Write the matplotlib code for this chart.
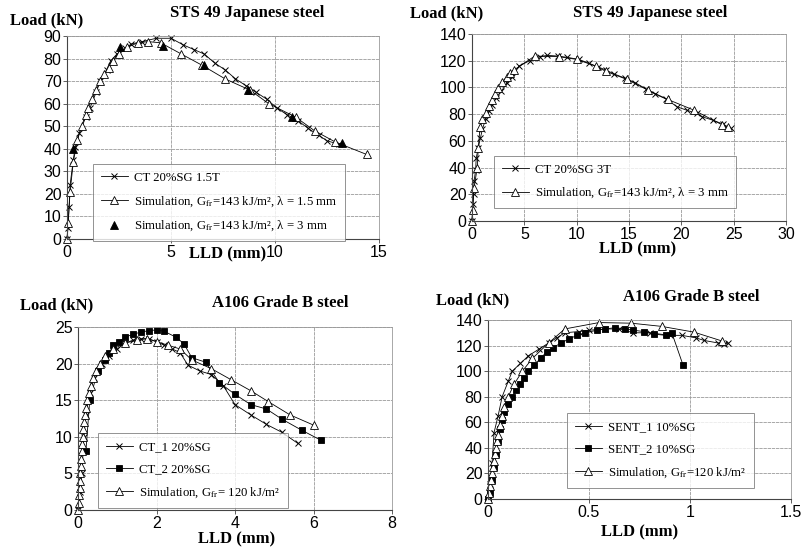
import numpy as np
import matplotlib
matplotlib.use("Agg")
import matplotlib.pyplot as plt

plt.rcParams['font.family'] = ['Liberation Serif', 'DejaVu Serif']
plt.rcParams['mathtext.fontset'] = 'stix'

# ---- panel 1 : STS 49, CT 1.5T ----
ct15_x = [0, 0.05, 0.1, 0.15, 0.3, 0.4, 0.6, 0.9, 1.1, 1.4, 1.6, 1.9, 2.1, 2.4, 2.8, 3.1, 3.6, 4.3, 5.0,
          5.6, 6.1, 6.6, 7.1, 7.6, 8.1, 8.6, 9.1, 9.6, 10.1, 10.6, 11.1, 11.6, 12.1, 12.5, 13.1]
ct15_y = [0, 5, 14, 24, 35, 41, 47, 54, 58, 65, 70, 75, 79, 82, 84.5, 86.5, 87.5, 89, 89,
          86, 84, 82, 78, 75, 71, 68, 65, 62, 58, 55, 52.5, 49, 46, 43.5, 42]
sim15_x = [0, 0.05, 0.15, 0.3, 0.5, 0.7, 0.9, 1.0, 1.2, 1.4, 1.6, 1.8, 2.0, 2.2, 2.5, 2.9, 3.4, 3.9,
           4.5, 5.5, 6.5, 7.6, 8.8, 9.7, 11.0, 11.9, 12.9, 14.4]
sim15_y = [0, 7, 21, 34, 44, 50, 55, 58, 62, 66, 70, 73, 76, 79, 82, 85, 87, 87.5,
           87, 82, 77, 71, 66, 60, 54, 48, 43, 37.5]
sim3a_x = [0.3, 2.55, 4.6, 6.6, 8.7, 10.8, 13.2]
sim3a_y = [40, 85, 85.5, 77, 66, 54, 42.5]

# ---- panel 2 : STS 49, CT 3T ----
ct3_x = [0, 0.1, 0.15, 0.2, 0.35, 0.4, 0.6, 0.8, 1.0, 1.3, 1.6, 1.9, 2.3, 2.8, 3.3, 3.8, 4.5, 5.5, 6.5,
         7.2, 8.2, 9.1, 10.2, 11.2, 12.0, 12.8, 13.6, 14.6, 15.6, 16.6, 17.5, 18.5, 19.6, 20.5, 21.5,
         22.0, 23.0, 24.0, 24.7]
ct3_y = [0, 13, 20, 30, 38, 47, 55, 62, 69, 76, 82, 87, 92, 97, 103, 108, 116, 120, 123,
         124, 123.5, 122.5, 121, 118, 115.5, 113, 110, 107, 103.5, 99, 95, 91.5, 85.5, 83, 80.5,
         78, 75.5, 72.5, 69.5]
sim3b_x = [0, 0.05, 0.2, 0.5, 0.6, 0.77, 1.0, 1.35, 1.6, 1.9, 2.2, 2.5, 2.9, 3.3, 3.6, 4.0, 6.0,
           8.3, 10.0, 11.8, 12.8, 14.8, 16.8, 18.7, 21.2, 23.9, 24.5]
sim3b_y = [0, 8, 25, 40, 55, 70, 76, 81, 86, 90.5, 95, 99.5, 104, 108, 111, 113, 123.5,
           123, 121, 116, 112, 106, 98, 91, 83, 72, 70]

# ---- panel 3 : A106, CT ----
ct1_x = [0, 0.05, 0.1, 0.15, 0.2, 0.3, 0.4, 0.6, 0.8, 1.0, 1.2, 1.4, 1.6, 1.8, 2.0, 2.2, 2.4, 2.6,
         2.8, 3.1, 3.4, 3.7, 4.0, 4.4, 4.8, 5.2, 5.6]
ct1_y = [0, 2.5, 5, 10, 13, 16, 18, 20, 21, 22, 22.8, 23.2, 23.4, 23.4, 23, 22.5, 22, 21.5,
         19.8, 19, 18.5, 17, 14.4, 13, 11.7, 10.6, 9.1]
ct2_x = [0.2, 0.3, 0.5, 0.7, 0.8, 0.9, 1.05, 1.2, 1.4, 1.6, 1.8, 2.0, 2.2, 2.5, 2.7, 2.9, 3.25,
         3.6, 4.0, 4.4, 4.8, 5.2, 5.7, 6.2]
ct2_y = [8, 15, 19, 20.5, 21.5, 22.5, 23, 23.6, 24, 24.3, 24.5, 24.6, 24.4, 23.6, 22.7, 20.8, 20.2,
         17.4, 15.8, 14.4, 13.8, 12.4, 10.9, 9.5]
sim120_x = [0, 0.02, 0.03, 0.04, 0.05, 0.06, 0.07, 0.08, 0.1, 0.11, 0.12, 0.14, 0.16, 0.18, 0.2,
            0.23, 0.27, 0.32, 0.38, 0.45, 0.55, 0.7, 0.9, 1.2, 1.5, 1.75, 2.0, 2.3, 2.6, 2.9,
            3.4, 3.9, 4.4, 4.85, 5.4, 6.0]
sim120_y = [0, 1, 2, 3, 4, 5, 6, 7, 8, 9, 10, 11, 12, 13, 14,
            15, 16, 17, 18, 19, 20, 21, 22, 22.8, 23.2, 23.4, 23, 22.5, 22, 20.5,
            19.3, 17.8, 16.3, 14.8, 13, 11.6]

# ---- panel 4 : A106, SENT ----
sent1_x = [0, 0.01, 0.02, 0.03, 0.05, 0.07, 0.1, 0.12, 0.16, 0.2, 0.25, 0.3, 0.34, 0.38, 0.45,
           0.5, 0.58, 0.65, 0.72, 0.8, 0.9, 0.96, 1.03, 1.07, 1.14, 1.17, 1.19]
sent1_y = [0, 12, 28, 52, 65, 80, 92, 100, 106, 112, 117, 122, 126, 130, 131,
           132, 133, 133, 130, 130, 128, 128, 126, 124, 122, 121, 122]
sent2_x = [0, 0.01, 0.02, 0.03, 0.04, 0.05, 0.06, 0.07, 0.08, 0.1, 0.12, 0.14, 0.16, 0.18, 0.2,
           0.23, 0.26, 0.29, 0.32, 0.36, 0.4, 0.44, 0.48, 0.54, 0.58, 0.63, 0.68, 0.72, 0.77,
           0.82, 0.88, 0.91, 0.965]
sent2_y = [0, 5, 15, 25, 35, 45, 55, 62, 68, 74, 80, 85, 90, 95, 100,
           105, 110, 115, 118, 122, 125, 128, 130, 132, 133, 134, 133, 132, 131,
           129, 128, 130, 105]
simsent_x = [0, 0.005, 0.01, 0.015, 0.02, 0.025, 0.03, 0.035, 0.04, 0.045, 0.05, 0.06, 0.07,
             0.08, 0.1, 0.13, 0.17, 0.22, 0.3, 0.38, 0.55, 0.71, 0.86, 1.02, 1.16]
simsent_y = [0, 5, 10, 15, 20, 25, 30, 35, 40, 45, 50, 58, 65, 72, 80, 90, 100, 110, 122, 133,
             138, 137.5, 135, 130.5, 123.5]

fig = plt.figure(figsize=(8.02, 5.48), dpi=100)

def make_ax(rect, xmax, ymax, xstep, ystep, xfmt=None):
    ax = fig.add_axes(rect)
    ax.set_xlim(0, xmax)
    ax.set_ylim(0, ymax)
    ax.set_xticks(np.arange(0, xmax + xstep / 2, xstep))
    ax.set_yticks(np.arange(0, ymax + ystep / 2, ystep))
    if xfmt:
        ax.set_xticklabels(xfmt)
    ax.grid(True, color='#9a9a9a', lw=0.6, ls=(0, (4, 1)))
    ax.set_axisbelow(True)
    for s in ['top', 'right']:
        ax.spines[s].set_color('#9a9a9a')
        ax.spines[s].set_linewidth(0.6)
    for s in ['left', 'bottom']:
        ax.spines[s].set_color('#444444')
        ax.spines[s].set_linewidth(0.8)
    ax.tick_params(direction='out', length=3, width=0.6, pad=1, color='#444444')
    for lab in ax.get_xticklabels() + ax.get_yticklabels():
        lab.set_family(['Liberation Sans', 'DejaVu Sans'])
        lab.set_fontsize(11.5)
    return ax

line_kw = dict(color='black', lw=0.6, clip_on=False)
xkw = dict(marker='x', ms=4.5, mew=0.7, mfc='black', mec='black')
okw = dict(marker='^', ms=5.5, mew=0.6, mfc='white', mec='black')
fkw = dict(marker='^', ms=5.5, mew=0.6, mfc='black', mec='black')
skw = dict(marker='s', ms=5, mew=0.6, mfc='black', mec='black')

def legend(ax, x0, y0, w, h):
    leg = ax.legend(loc='center left', bbox_to_anchor=(x0 / 802, 1 - (y0 + h) / 548, w / 802, h / 548),
                    bbox_transform=fig.transFigure, fontsize=9.2, frameon=True, fancybox=False,
                    borderaxespad=0, handlelength=2.1, handletextpad=0.5, labelspacing=0.8,
                    borderpad=0.6)
    leg.get_frame().set_edgecolor('#777777')
    leg.get_frame().set_linewidth(0.7)
    return leg

# panel 1
ax1 = make_ax([67 / 802, 1 - 239 / 548, 312 / 802, 203 / 548], 15, 90, 5, 10)
ax1.plot(ct15_x, ct15_y, label='CT 20%SG 1.5T', **line_kw, **xkw)
ax1.plot(sim15_x, sim15_y, label=r'Simulation, G$_{\rm fr}$=143 kJ/m², λ = 1.5 mm', **line_kw, **okw)
ax1.plot(sim3a_x, sim3a_y, ls='none', label=r'Simulation, G$_{\rm fr}$=143 kJ/m², λ = 3 mm',
         clip_on=False, **fkw)
legend(ax1, 93, 175, 267, 55)

# panel 2
ax2 = make_ax([472 / 802, 1 - 221 / 548, 314 / 802, 187 / 548], 30, 140, 5, 20)
ax2.plot(ct3_x, ct3_y, label='CT 20%SG 3T', **line_kw, **xkw)
ax2.plot(sim3b_x, sim3b_y, label=r'Simulation, G$_{\rm fr}$=143 kJ/m², λ = 3 mm', **line_kw, **okw)
legend(ax2, 494, 153, 249, 58)

# panel 3
ax3 = make_ax([78 / 802, 1 - 510 / 548, 314 / 802, 183 / 548], 8, 25, 2, 5)
ax3.plot(ct1_x, ct1_y, label='CT_1 20%SG', **line_kw, **xkw)
ax3.plot(ct2_x, ct2_y, label='CT_2 20%SG', **line_kw, **skw)
ax3.plot(sim120_x, sim120_y, label=r'Simulation, G$_{\rm fr}$= 120 kJ/m²', **line_kw, **okw)
legend(ax3, 98, 438, 185, 65)

# panel 4
ax4 = make_ax([488 / 802, 1 - 499 / 548, 303 / 802, 179 / 548], 1.5, 140, 0.5, 20,
              xfmt=['0', '0.5', '1', '1.5'])
ax4.plot(sent1_x, sent1_y, label='SENT_1 10%SG', **line_kw, **xkw)
ax4.plot(sent2_x, sent2_y, label='SENT_2 10%SG', **line_kw, **skw)
ax4.plot(simsent_x, simsent_y, label=r'Simulation, G$_{\rm fr}$=120 kJ/m²', **line_kw, **okw)
legend(ax4, 567, 418, 189, 65)

# titles and axis names, placed like the scanned figure
tkw = dict(fontsize=12, fontweight='bold', va='center')
fig.text(10 / 802, 1 - 20 / 548, 'Load (kN)', ha='left', **tkw)
fig.text(247 / 802, 1 - 13 / 548, 'STS 49 Japanese steel', ha='center', **tkw)
fig.text(228 / 802, 1 - 254 / 548, 'LLD (mm)', ha='center', **tkw)

fig.text(410 / 802, 1 - 13 / 548, 'Load (kN)', ha='left', **tkw)
fig.text(650 / 802, 1 - 13 / 548, 'STS 49 Japanese steel', ha='center', **tkw)
fig.text(638 / 802, 1 - 249 / 548, 'LLD (mm)', ha='center', **tkw)

fig.text(20 / 802, 1 - 305 / 548, 'Load (kN)', ha='left', **tkw)
fig.text(280 / 802, 1 - 303 / 548, 'A106 Grade B steel', ha='center', **tkw)
fig.text(237 / 802, 1 - 539 / 548, 'LLD (mm)', ha='center', **tkw)

fig.text(436 / 802, 1 - 300 / 548, 'Load (kN)', ha='left', **tkw)
fig.text(691 / 802, 1 - 297 / 548, 'A106 Grade B steel', ha='center', **tkw)
fig.text(640 / 802, 1 - 532 / 548, 'LLD (mm)', ha='center', **tkw)

fig.savefig('out.png', dpi=100)
